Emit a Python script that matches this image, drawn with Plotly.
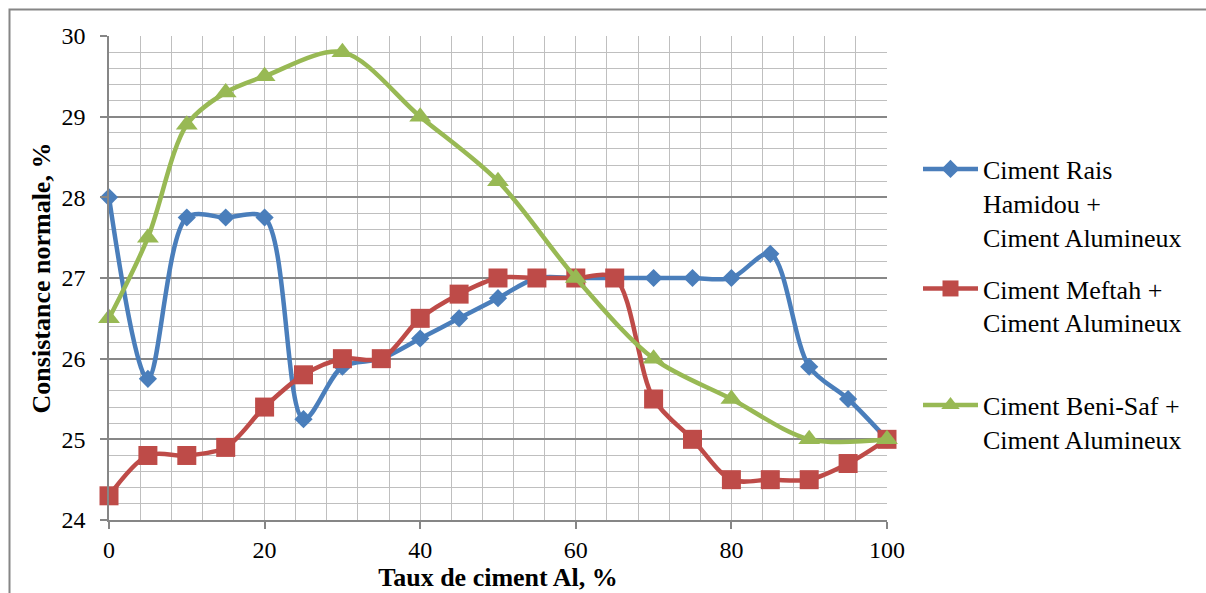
import plotly.graph_objects as go

# ---- data ----
x_blue = [0, 5, 10, 15, 20, 25, 30, 35, 40, 45, 50, 55, 60, 65, 70, 75, 80, 85, 90, 95, 100]
y_blue = [28.0, 25.75, 27.75, 27.75, 27.75, 25.25, 25.9, 26.0, 26.25, 26.5, 26.75, 27.0, 27.0, 27.0, 27.0, 27.0, 27.0, 27.3, 25.9, 25.5, 25.0]

x_red = [0, 5, 10, 15, 20, 25, 30, 35, 40, 45, 50, 55, 60, 65, 70, 75, 80, 85, 90, 95, 100]
y_red = [24.3, 24.8, 24.8, 24.9, 25.4, 25.8, 26.0, 26.0, 26.5, 26.8, 27.0, 27.0, 27.0, 27.0, 25.5, 25.0, 24.5, 24.5, 24.5, 24.7, 25.0]

x_green = [0, 5, 10, 15, 20, 30, 40, 50, 60, 70, 80, 90, 100]
y_green = [26.5, 27.5, 28.9, 29.3, 29.5, 29.8, 29.0, 28.2, 27.0, 26.0, 25.5, 25.0, 25.0]

names = ["Ciment Rais<br>Hamidou +<br>Ciment Alumineux",
         "Ciment Meftah +<br>Ciment Alumineux",
         "Ciment Beni-Saf +<br>Ciment Alumineux"]
colors = ["#4A7EBB", "#BE4B48", "#98B954"]
symbols = ["diamond", "square", "triangle-up"]
msizes = [14, 19, 19]

x_title = "Taux de ciment Al, %"
y_title = "Consistance normale, %"

FONT = "Liberation Serif"

fig = go.Figure()
series = [(x_blue, y_blue), (x_red, y_red), (x_green, y_green)]
legends = ["legend", "legend2", "legend3"]
for (xs, ys), nm, c, s, ms, lg in zip(series, names, colors, symbols, msizes, legends):
    fig.add_trace(go.Scatter(
        x=xs, y=ys, name=nm, mode="lines+markers",
        line=dict(color=c, width=4.5, shape="spline", smoothing=0.9),
        marker=dict(symbol=s, size=ms, color=c),
        cliponaxis=False, legend=lg,
    ))

L, R, T, B = 109, 319, 36, 71
W, H = 1206, 593
pw = W - L - R
ph = H - T - B

def px_x(p):
    return (p - L) / pw

def px_y(p):
    return 1 - (p - T) / ph

leg_common = dict(font=dict(family=FONT, size=26, color="black"),
                  bgcolor="rgba(0,0,0,0)", borderwidth=0,
                  xanchor="left", yanchor="top", valign="top",
                  itemwidth=55, tracegroupgap=0)

fig.update_layout(
    width=W, height=H,
    margin=dict(l=L, r=R, t=T, b=B),
    paper_bgcolor="white", plot_bgcolor="white",
    font=dict(family=FONT, size=24, color="black"),
    showlegend=True,
    legend=dict(x=px_x(918), y=px_y(146), **leg_common),
    legend2=dict(x=px_x(918), y=px_y(266), **leg_common),
    legend3=dict(x=px_x(918), y=px_y(383), **leg_common),
    xaxis=dict(
        range=[0, 100], dtick=20, tick0=0,
        showgrid=True, gridcolor="#BFBFBF", gridwidth=1,
        minor=dict(dtick=4, showgrid=True, gridcolor="#BFBFBF", gridwidth=1),
        showline=True, linecolor="#868686", linewidth=1.5,
        ticks="outside", ticklen=7, tickcolor="#868686", tickwidth=1.5,
        tickfont=dict(family=FONT, size=24, color="black"),
        title=dict(text="<b>" + x_title + "</b>", font=dict(family=FONT, size=26, color="black"), standoff=0),
        zeroline=False, mirror=False,
    ),
    yaxis=dict(
        range=[24, 30], dtick=1, tick0=24,
        showgrid=True, gridcolor="#878787", gridwidth=1.5,
        minor=dict(dtick=0.2, showgrid=True, gridcolor="#BFBFBF", gridwidth=1),
        showline=True, linecolor="#868686", linewidth=1.5,
        ticks="outside", ticklen=7, tickcolor="#868686", tickwidth=1.5,
        tickfont=dict(family=FONT, size=24, color="black"),
        ticklabelstandoff=10,
        title=dict(text="<b>" + y_title + "</b>", font=dict(family=FONT, size=26, color="black"), standoff=3),
        zeroline=False,
    ),
    shapes=[dict(type="rect", xref="paper", yref="paper",
                 x0=px_x(9.5), x1=px_x(1230), y0=px_y(620), y1=px_y(9.5),
                 line=dict(color="#868686", width=2), fillcolor="rgba(0,0,0,0)", layer="below")],
)

fig.write_html("out.html")
